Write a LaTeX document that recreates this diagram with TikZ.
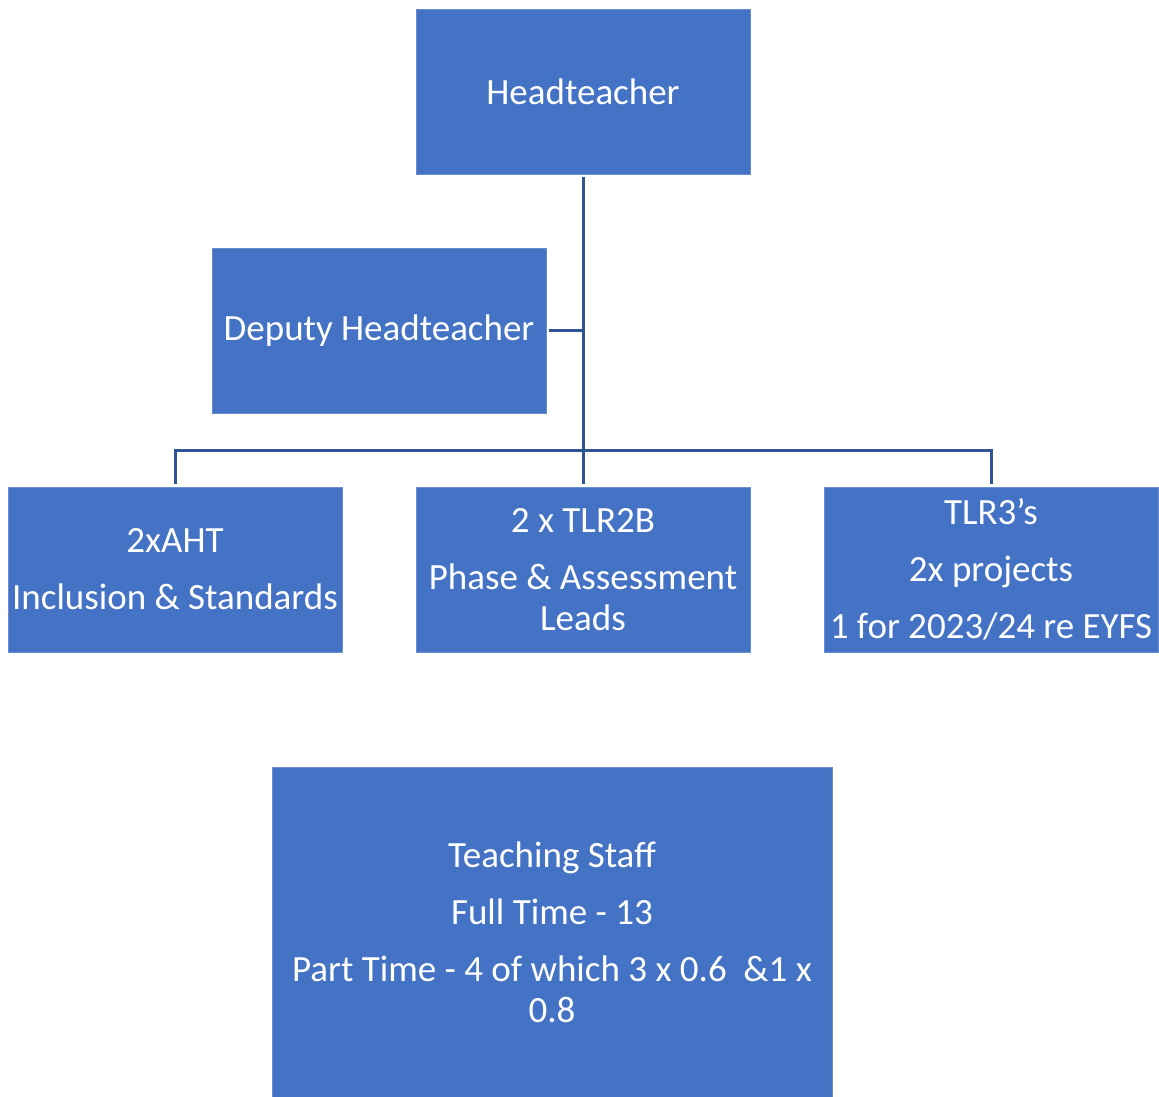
\documentclass[tikz,border=0pt]{standalone}
\usepackage{fontspec}
\setmainfont{Carlito}
\definecolor{boxblue}{HTML}{4472C4}
\definecolor{lineblue}{HTML}{2F5597}
\begin{document}
\begin{tikzpicture}[x=1pt,y=-1pt,
  orgbox/.style={fill=boxblue, draw=boxblue!80!white, line width=0.8pt, text=white, inner sep=0pt, outer sep=3pt,
    minimum width=334pt, minimum height=165pt, align=center,
    font=\fontsize{37}{41}\selectfont},
  link/.style={draw=lineblue, line width=3pt}]
\useasboundingbox (0,0) rectangle (1159,1097);
\node[orgbox] (head) at (583,91.5) {Headteacher};
\node[orgbox] (dep) at (379,330.5) {Deputy Headteacher};
\node[orgbox] (aht) at (175,569.5) {2xAHT\\[16pt]Inclusion \& Standards};
\node[orgbox] (tlr2) at (583,569.5) {2 x TLR2B\\[16pt]Phase \& Assessment\\Leads};
\node[orgbox] (tlr3) at (991,569.5) {TLR3{\char"0027}s\\[16pt]2x projects\\[16pt]1 for 2023/24 re EYFS};
\node[orgbox, minimum width=560pt, minimum height=330pt] (staff) at (552,932)
  {Teaching Staff\\[16pt]Full Time - 13\\[16pt]Part Time - 4 of which 3 x 0.6 \ \&1 x\\0.8};
\coordinate (bus) at (583,450);
\draw[link] (head.south) -- (tlr2.north);
\draw[link] (dep.east) -- (dep.east -| head.south);
\draw[link] (aht.north) |- (bus) -| (tlr3.north);
\end{tikzpicture}
\end{document}
